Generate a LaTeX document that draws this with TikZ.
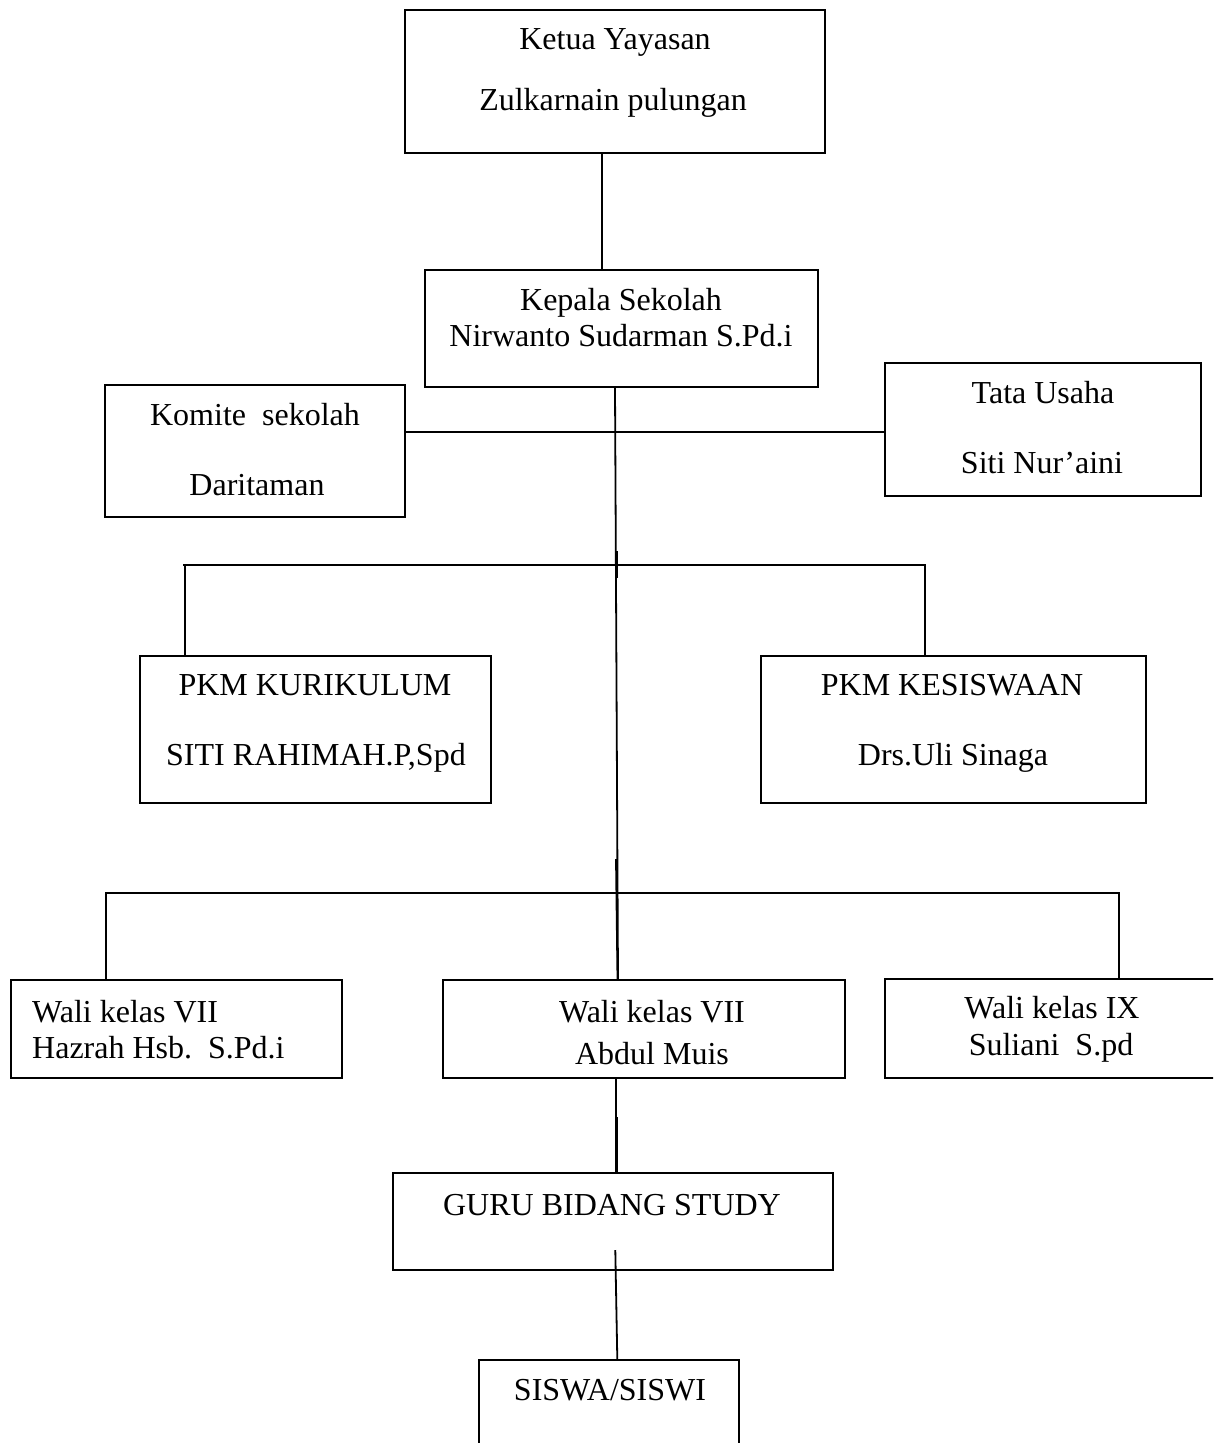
\documentclass[tikz,border=0pt]{standalone}
\usepackage{fontspec}
\setmainfont{Liberation Serif}
\begin{document}
\begin{tikzpicture}[x=1pt,y=-1pt,
  box/.style={draw, line width=2.2pt, inner sep=0pt, rectangle},
  txt/.style={anchor=base, inner sep=0pt, font=\fontsize{32}{38}\selectfont},
  txtl/.style={txt, anchor=base west},
  conn/.style={line width=1.8pt}]
\path[use as bounding box] (0,0) rectangle (1213,1443);
\clip (0,0) rectangle (1213,1443);
\fill[white] (0,0) rectangle (1213,1443);

% boxes
\node[box, minimum width=420pt, minimum height=143pt] (ketua)  at (615,81.5) {};
\node[box, minimum width=393pt, minimum height=117pt] (kepala) at (621.5,328.5) {};
\node[box, minimum width=300pt, minimum height=132pt] (komite) at (255,451) {};
\node[box, minimum width=316pt, minimum height=133pt] (tata)   at (1043,429.5) {};
\node[box, minimum width=351pt, minimum height=147pt] (kur)    at (315.5,729.5) {};
\node[box, minimum width=385pt, minimum height=147pt] (kes)    at (953.5,729.5) {};
\node[box, minimum width=331pt, minimum height=98pt]  (wali1)  at (176.5,1029) {};
\node[box, minimum width=402pt, minimum height=98pt]  (wali2)  at (644,1029) {};
\node[box, minimum width=331pt, minimum height=99pt]  (wali3)  at (1050.5,1028.5) {};
\node[box, minimum width=440pt, minimum height=97pt]  (guru)   at (613,1221.5) {};
\node[box, minimum width=260pt, minimum height=100pt] (siswa)  at (609,1410) {};

% texts
\node[txt] (t1a) at (615,49)  {Ketua Yayasan};
\node[txt] (t1b) at (613,110) {Zulkarnain pulungan};
\node[txt] (t2a) at (621,310) {Kepala Sekolah};
\node[txt] (t2b) at (621,346) {Nirwanto Sudarman S.Pd.i};
\node[txt] (t3a) at (255,425) {Komite\ \ sekolah};
\node[txt] (t3b) at (257,495) {Daritaman};
\node[txt] (t4a) at (1043,403) {Tata Usaha};
\node[txt] (t4b) at (1042,473) {Siti Nur’aini};
\node[txt] (t5a) at (315,695) {PKM KURIKULUM};
\node[txt] (t5b) at (316,765) {SITI RAHIMAH.P,Spd};
\node[txt] (t6a) at (952,695) {PKM KESISWAAN};
\node[txt] (t6b) at (953,765) {Drs.Uli Sinaga};
\node[txtl] (t7a) at (32,1022) {Wali kelas VII};
\node[txtl] (t7b) at (32,1058) {Hazrah Hsb.\ \ S.Pd.i};
\node[txt] (t8a) at (652,1022) {Wali kelas VII};
\node[txt] (t8b) at (652,1064) {Abdul Muis};
\node[txt] (t9a) at (1052,1018) {Wali kelas IX};
\node[txt] (t9b) at (1051,1055) {Suliani\ \ S.pd};
\node[txt] (t10) at (612,1215) {GURU BIDANG STUDY};
\node[txt] (t11) at (610,1400) {SISWA/SISWI};

% rail / junction coordinates
\coordinate (xa) at (602,0);
\coordinate (c1) at (615,0);
\coordinate (c2) at (618,0);
\coordinate (h1) at (0,432);
\coordinate (dl2) at (185,565);
\coordinate (dr2) at (925,565);
\coordinate (le2) at (183,565);
\coordinate (dl3) at (106,893);
\coordinate (dr3) at (1119,893);
\coordinate (s1a) at (617,551);
\coordinate (s1b) at (617,578);
\coordinate (s2a) at (616,859);
\coordinate (s2x) at (617.5,0);
\coordinate (c3) at (616,0);
\coordinate (s3a) at (617.5,1117);
\coordinate (s3x) at (617.5,0);
\coordinate (g1) at (615.3,1250);
\coordinate (g2) at (617.3,0);

% connectors
\draw[conn] (xa |- ketua.south) -- (xa |- kepala.north);
\draw[conn] (c1 |- kepala.south) -- (c2 |- wali2.north);
\draw[conn] (komite.east |- h1) -- (tata.west |- h1);
\draw[conn] (kur.north -| dl2) -- (dl2) -- (dr2) -- (kes.north -| dr2);
\draw[conn] (le2) -- (dl2);
\draw[conn] (s1a) -- (s1b);
\draw[conn] (wali1.north -| dl3) -- (dl3) -- (dr3) -- (wali3.north -| dr3);
\draw[conn] (s2a) -- (s2x |- wali2.north);
\draw[conn] (c3 |- wali2.south) -- (c3 |- guru.north);
\draw[conn] (s3a) -- (s3x |- guru.north);
\draw[conn] (g1) -- (g2 |- siswa.north);
\end{tikzpicture}
\end{document}
